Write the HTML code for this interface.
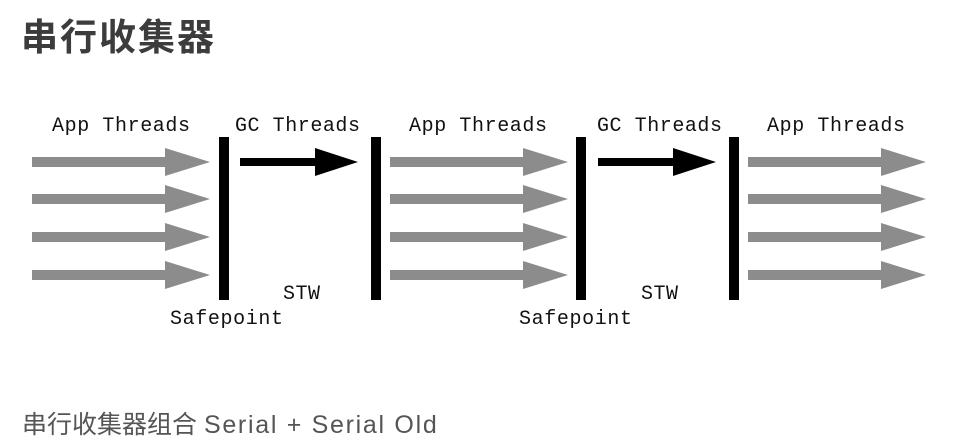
<!DOCTYPE html>
<html><head><meta charset="utf-8"><style>
body{margin:0;background:#fff;width:962px;height:448px;overflow:hidden;position:relative}
.t{position:absolute;left:21px;top:7px;font:bold 37px "Liberation Sans","Noto Sans CJK SC",sans-serif;color:#3c3c3c;letter-spacing:2px}
.b{position:absolute;left:22px;top:405px;font:25px "Liberation Sans","Noto Sans CJK SC",sans-serif;color:#555;white-space:nowrap}
.b span{letter-spacing:1.7px}
svg{position:absolute;left:0;top:0}
text{font-family:"Liberation Mono",monospace;font-size:20px;fill:#111}
</style></head><body>
<div class="t">串行收集器</div>
<svg width="962" height="448">
<defs>
<g id="ga"><rect x="0" y="-5" width="135" height="10" fill="#8c8c8c"/><polygon points="133,-14 178,0 133,14" fill="#8c8c8c"/></g>
<g id="ba"><rect x="0" y="-4" width="80" height="8" fill="#000"/><polygon points="75,-14 118,0 75,14" fill="#000"/></g>
</defs>
<g>
<use href="#ga" x="32" y="162"/><use href="#ga" x="32" y="199"/><use href="#ga" x="32" y="237"/><use href="#ga" x="32" y="275"/>
<use href="#ga" x="390" y="162"/><use href="#ga" x="390" y="199"/><use href="#ga" x="390" y="237"/><use href="#ga" x="390" y="275"/>
<use href="#ga" x="748" y="162"/><use href="#ga" x="748" y="199"/><use href="#ga" x="748" y="237"/><use href="#ga" x="748" y="275"/>
<use href="#ba" x="240" y="162"/><use href="#ba" x="598" y="162"/>
<rect x="219" y="137" width="10" height="163" fill="#000"/>
<rect x="371" y="137" width="10" height="163" fill="#000"/>
<rect x="576" y="137" width="10" height="163" fill="#000"/>
<rect x="729" y="137" width="10" height="163" fill="#000"/>
</g>
<text x="52" y="131" textLength="138">App Threads</text>
<text x="235" y="131" textLength="125">GC Threads</text>
<text x="409" y="131" textLength="138">App Threads</text>
<text x="597" y="131" textLength="125">GC Threads</text>
<text x="767" y="131" textLength="138">App Threads</text>
<text x="283" y="299" textLength="37">STW</text>
<text x="641" y="299" textLength="37">STW</text>
<text x="170" y="324" textLength="113">Safepoint</text>
<text x="519" y="324" textLength="113">Safepoint</text>
</svg>
<div class="b">串行收集器组合 <span>Serial + Serial Old</span></div>
</body></html>
